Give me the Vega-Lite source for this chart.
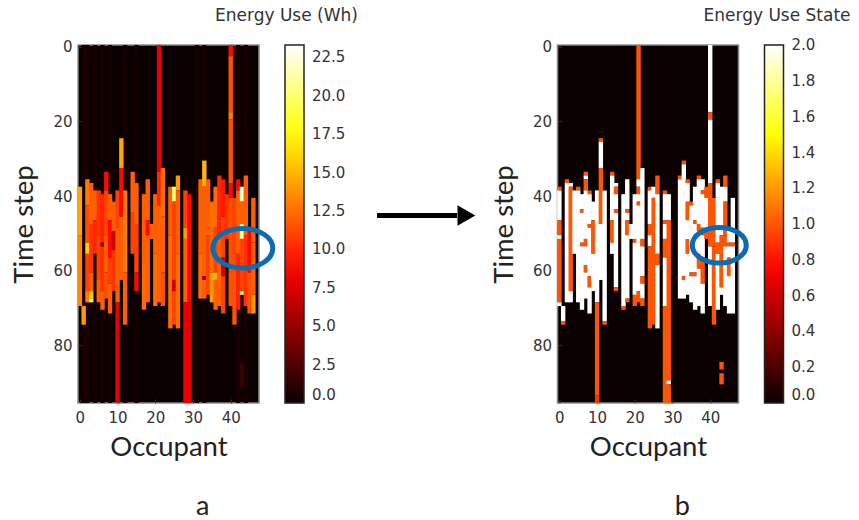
{"$schema":"https://vega.github.io/schema/vega-lite/v6.json","padding":{"left":10,"top":6,"right":5,"bottom":4},"background":"white","bounds":"flush","spacing":298.5,"resolve":{"scale":{"color":"independent"},"legend":{"color":"independent"}},"config":{"view":{"fill":"#0a0000","stroke":"#8a8a8a","strokeWidth":1.5},"axis":{"grid":false,"domain":false,"tickColor":"#333","tickSize":-4,"labelFont":"DejaVu Sans","labelFontSize":15,"labelColor":"#333","titleFont":"Lato","titleFontSize":27.5,"titleFontWeight":"normal","titleColor":"#222"},"legend":{"labelFont":"DejaVu Sans","labelFontSize":15,"labelColor":"#333"}},
"datasets":{"energy":[
{"o":2,"s":-0.5,"e":95.5,"v":0.5},{"o":4,"s":-0.5,"e":95.5,"v":0.4},{"o":6,"s":-0.5,"e":95.5,"v":0.3},{"o":8,"s":-0.5,"e":95.5,"v":0.35},{"o":12,"s":-0.5,"e":95.5,"v":0.3},{"o":15,"s":-0.5,"e":95.5,"v":0.3},{"o":31,"s":-0.5,"e":95.5,"v":0.4},{"o":33,"s":-0.5,"e":95.5,"v":0.3},{"o":1,"s":-0.5,"e":95.5,"v":0.5},{"o":42,"s":-0.5,"e":95.5,"v":0.45},{"o":44,"s":-0.5,"e":95.5,"v":0.45},{"o":43,"s":84.5,"e":91.5,"v":1.5},
{"o":0,"s":37.5,"e":50.5,"v":14.5},{"o":0,"s":50.5,"e":69.5,"v":13.5},
{"o":1,"s":69.5,"e":74.5,"v":14},
{"o":2,"s":35.5,"e":42.5,"v":13},{"o":2,"s":42.5,"e":52.5,"v":11.5},{"o":2,"s":52.5,"e":55.5,"v":16},{"o":2,"s":55.5,"e":65.5,"v":11},{"o":2,"s":65.5,"e":68.5,"v":13},
{"o":3,"s":36.5,"e":47.5,"v":12},{"o":3,"s":47.5,"e":60.5,"v":10.5},{"o":3,"s":60.5,"e":65.5,"v":12},{"o":3,"s":65.5,"e":67.5,"v":16},{"o":3,"s":67.5,"e":68.5,"v":20},
{"o":4,"s":38.5,"e":46.5,"v":12},{"o":4,"s":46.5,"e":55.5,"v":10},
{"o":5,"s":38.5,"e":50.5,"v":10.5},{"o":5,"s":50.5,"e":62.5,"v":11},{"o":5,"s":62.5,"e":68.5,"v":12},
{"o":6,"s":39.5,"e":52.5,"v":10},{"o":6,"s":52.5,"e":53.5,"v":4},{"o":6,"s":53.5,"e":65.5,"v":10.5},{"o":6,"s":65.5,"e":70.5,"v":12},
{"o":7,"s":33.5,"e":38.5,"v":9},{"o":7,"s":38.5,"e":50.5,"v":11},{"o":7,"s":50.5,"e":60.5,"v":12},{"o":7,"s":60.5,"e":67.5,"v":11.5},
{"o":8,"s":39.5,"e":46.5,"v":12},{"o":8,"s":46.5,"e":56.5,"v":9},{"o":8,"s":56.5,"e":63.5,"v":11},{"o":8,"s":63.5,"e":71.5,"v":12},
{"o":9,"s":41.5,"e":49.5,"v":12},{"o":9,"s":49.5,"e":54.5,"v":7},{"o":9,"s":54.5,"e":65.5,"v":10.5},
{"o":10,"s":38.5,"e":48.5,"v":11},{"o":10,"s":48.5,"e":68.5,"v":12},{"o":10,"s":68.5,"e":95.5,"v":8},
{"o":11,"s":24.5,"e":32.5,"v":14.5},{"o":11,"s":32.5,"e":45.5,"v":9},{"o":11,"s":45.5,"e":62.5,"v":12},
{"o":12,"s":38.5,"e":60.5,"v":13},{"o":12,"s":60.5,"e":74.5,"v":12},
{"o":14,"s":33.5,"e":44.5,"v":12},{"o":14,"s":44.5,"e":55.5,"v":11},
{"o":15,"s":36.5,"e":47.5,"v":12},{"o":15,"s":47.5,"e":60.5,"v":11},{"o":15,"s":60.5,"e":65.5,"v":9},
{"o":17,"s":39.5,"e":58.5,"v":12},{"o":17,"s":58.5,"e":70.5,"v":12.5},
{"o":18,"s":35.5,"e":46.5,"v":12},{"o":18,"s":46.5,"e":50.5,"v":9},{"o":18,"s":50.5,"e":68.5,"v":12},
{"o":19,"s":47.5,"e":51.5,"v":12},
{"o":20,"s":39.5,"e":55.5,"v":12},{"o":20,"s":55.5,"e":69.5,"v":12.5},
{"o":21,"s":-0.5,"e":33.5,"v":8},{"o":21,"s":33.5,"e":42.5,"v":10},{"o":21,"s":42.5,"e":68.5,"v":12},
{"o":22,"s":32.5,"e":45.5,"v":12.5},{"o":22,"s":45.5,"e":60.5,"v":12},{"o":22,"s":60.5,"e":69.5,"v":11.5},
{"o":24,"s":37.5,"e":50.5,"v":12},{"o":24,"s":50.5,"e":75.5,"v":12.5},
{"o":25,"s":37.5,"e":41.5,"v":20},{"o":25,"s":41.5,"e":62.5,"v":11},{"o":25,"s":62.5,"e":65.5,"v":7},{"o":25,"s":65.5,"e":74.5,"v":11},
{"o":26,"s":34.5,"e":38.5,"v":14},{"o":26,"s":38.5,"e":55.5,"v":12},{"o":26,"s":55.5,"e":75.5,"v":12.5},
{"o":28,"s":38.5,"e":48.5,"v":11},{"o":28,"s":48.5,"e":51.5,"v":14},{"o":28,"s":51.5,"e":68.5,"v":12},{"o":28,"s":68.5,"e":95.5,"v":8},
{"o":29,"s":39.5,"e":68.5,"v":9},{"o":29,"s":68.5,"e":95.5,"v":8},
{"o":32,"s":35.5,"e":55.5,"v":12},{"o":32,"s":55.5,"e":67.5,"v":12.5},
{"o":33,"s":30.5,"e":37.5,"v":15},{"o":33,"s":37.5,"e":61.5,"v":12},{"o":33,"s":61.5,"e":62.5,"v":5},{"o":33,"s":62.5,"e":67.5,"v":12},
{"o":34,"s":35.5,"e":50.5,"v":12},{"o":34,"s":50.5,"e":66.5,"v":11},
{"o":35,"s":41.5,"e":60.5,"v":12.5},{"o":35,"s":60.5,"e":68.5,"v":14},
{"o":36,"s":37.5,"e":48.5,"v":12.5},{"o":36,"s":48.5,"e":60.5,"v":11},{"o":36,"s":60.5,"e":62.5,"v":15},{"o":36,"s":62.5,"e":70.5,"v":12},
{"o":37,"s":34.5,"e":50.5,"v":10},{"o":37,"s":50.5,"e":69.5,"v":12},
{"o":38,"s":35.5,"e":45.5,"v":9.5},{"o":38,"s":45.5,"e":56.5,"v":11},{"o":38,"s":56.5,"e":61.5,"v":7},{"o":38,"s":61.5,"e":71.5,"v":11},
{"o":39,"s":39.5,"e":51.5,"v":10.5},
{"o":40,"s":-0.5,"e":2.5,"v":9},{"o":40,"s":2.5,"e":17.5,"v":11.5},{"o":40,"s":17.5,"e":19.5,"v":13},{"o":40,"s":19.5,"e":36.5,"v":11.5},{"o":40,"s":36.5,"e":40.5,"v":9},{"o":40,"s":40.5,"e":69.5,"v":11.5},
{"o":41,"s":40.5,"e":55.5,"v":11},{"o":41,"s":55.5,"e":74.5,"v":11.5},
{"o":42,"s":35.5,"e":38.5,"v":9},{"o":42,"s":38.5,"e":55.5,"v":12},{"o":42,"s":55.5,"e":70.5,"v":10},
{"o":43,"s":37.5,"e":41.5,"v":22},{"o":43,"s":41.5,"e":47.5,"v":12},{"o":43,"s":47.5,"e":51.5,"v":21},{"o":43,"s":51.5,"e":65.5,"v":11},{"o":43,"s":65.5,"e":66.5,"v":20},
{"o":44,"s":34.5,"e":50.5,"v":12},{"o":44,"s":50.5,"e":69.5,"v":10.5},
{"o":45,"s":48.5,"e":60.5,"v":9},{"o":45,"s":60.5,"e":71.5,"v":11.5},
{"o":46,"s":40.5,"e":52.5,"v":12},{"o":46,"s":52.5,"e":66.5,"v":12},{"o":46,"s":66.5,"e":71.5,"v":14}
],
"state":[
{"o":0,"s":37.5,"e":38.5,"v":1},{"o":0,"s":38.5,"e":46.5,"v":2},{"o":0,"s":46.5,"e":50.5,"v":1},{"o":0,"s":50.5,"e":51.5,"v":2},{"o":0,"s":51.5,"e":68.5,"v":1},{"o":0,"s":68.5,"e":69.5,"v":2},
{"o":1,"s":69.5,"e":73.5,"v":2},{"o":1,"s":73.5,"e":74.5,"v":1},
{"o":2,"s":35.5,"e":36.5,"v":1},{"o":2,"s":36.5,"e":68.5,"v":2},
{"o":3,"s":36.5,"e":37.5,"v":2},{"o":3,"s":37.5,"e":65.5,"v":1},{"o":3,"s":65.5,"e":68.5,"v":2},
{"o":4,"s":38.5,"e":55.5,"v":2},
{"o":5,"s":37.5,"e":38.5,"v":1},{"o":5,"s":38.5,"e":68.5,"v":2},
{"o":6,"s":39.5,"e":43.5,"v":2},{"o":6,"s":43.5,"e":44.5,"v":1},{"o":6,"s":44.5,"e":52.5,"v":2},{"o":6,"s":52.5,"e":53.5,"v":1},{"o":6,"s":53.5,"e":70.5,"v":2},
{"o":7,"s":33.5,"e":34.5,"v":1},{"o":7,"s":34.5,"e":35.5,"v":2},{"o":7,"s":35.5,"e":38.5,"v":1},{"o":7,"s":38.5,"e":51.5,"v":2},{"o":7,"s":51.5,"e":53.5,"v":1},{"o":7,"s":53.5,"e":58.5,"v":2},{"o":7,"s":58.5,"e":60.5,"v":1},{"o":7,"s":60.5,"e":67.5,"v":2},
{"o":8,"s":38.5,"e":39.5,"v":1},{"o":8,"s":39.5,"e":47.5,"v":2},{"o":8,"s":47.5,"e":48.5,"v":1},{"o":8,"s":48.5,"e":61.5,"v":2},{"o":8,"s":61.5,"e":64.5,"v":1},{"o":8,"s":64.5,"e":71.5,"v":2},
{"o":9,"s":41.5,"e":46.5,"v":2},{"o":9,"s":46.5,"e":55.5,"v":1},{"o":9,"s":55.5,"e":65.5,"v":2},
{"o":10,"s":38.5,"e":68.5,"v":2},{"o":10,"s":68.5,"e":93.5,"v":1},{"o":10,"s":93.5,"e":95.5,"v":0.9},
{"o":11,"s":24.5,"e":25.5,"v":1},{"o":11,"s":25.5,"e":32.5,"v":2},{"o":11,"s":32.5,"e":47.5,"v":1},{"o":11,"s":47.5,"e":62.5,"v":2},
{"o":12,"s":38.5,"e":73.5,"v":2},{"o":12,"s":73.5,"e":74.5,"v":1},
{"o":14,"s":33.5,"e":34.5,"v":1},{"o":14,"s":34.5,"e":46.5,"v":2},{"o":14,"s":46.5,"e":52.5,"v":1},{"o":14,"s":52.5,"e":55.5,"v":2},
{"o":15,"s":36.5,"e":37.5,"v":2},{"o":15,"s":37.5,"e":39.5,"v":1},{"o":15,"s":39.5,"e":43.5,"v":2},{"o":15,"s":43.5,"e":44.5,"v":1},{"o":15,"s":44.5,"e":64.5,"v":2},{"o":15,"s":64.5,"e":65.5,"v":1},
{"o":17,"s":39.5,"e":69.5,"v":2},{"o":17,"s":69.5,"e":70.5,"v":1},
{"o":18,"s":35.5,"e":43.5,"v":2},{"o":18,"s":43.5,"e":44.5,"v":1},{"o":18,"s":44.5,"e":46.5,"v":2},{"o":18,"s":46.5,"e":50.5,"v":1},{"o":18,"s":50.5,"e":67.5,"v":2},{"o":18,"s":67.5,"e":68.5,"v":1},
{"o":19,"s":47.5,"e":51.5,"v":2},
{"o":20,"s":39.5,"e":51.5,"v":2},{"o":20,"s":51.5,"e":52.5,"v":1},{"o":20,"s":52.5,"e":66.5,"v":2},{"o":20,"s":66.5,"e":69.5,"v":1},
{"o":21,"s":-0.5,"e":35.5,"v":1},{"o":21,"s":35.5,"e":37.5,"v":2},{"o":21,"s":37.5,"e":39.5,"v":1},{"o":21,"s":39.5,"e":41.5,"v":2},{"o":21,"s":41.5,"e":42.5,"v":1},{"o":21,"s":42.5,"e":65.5,"v":2},{"o":21,"s":65.5,"e":68.5,"v":1},
{"o":22,"s":32.5,"e":51.5,"v":2},{"o":22,"s":51.5,"e":53.5,"v":1},{"o":22,"s":53.5,"e":61.5,"v":2},{"o":22,"s":61.5,"e":63.5,"v":1},{"o":22,"s":63.5,"e":67.5,"v":2},{"o":22,"s":67.5,"e":69.5,"v":1},
{"o":24,"s":37.5,"e":38.5,"v":1},{"o":24,"s":38.5,"e":47.5,"v":2},{"o":24,"s":47.5,"e":50.5,"v":1},{"o":24,"s":50.5,"e":53.5,"v":2},{"o":24,"s":53.5,"e":75.5,"v":1},
{"o":25,"s":37.5,"e":40.5,"v":2},{"o":25,"s":40.5,"e":74.5,"v":1},
{"o":26,"s":34.5,"e":39.5,"v":1},{"o":26,"s":39.5,"e":55.5,"v":2},{"o":26,"s":55.5,"e":58.5,"v":1},{"o":26,"s":58.5,"e":75.5,"v":2},
{"o":28,"s":38.5,"e":39.5,"v":1},{"o":28,"s":39.5,"e":46.5,"v":2},{"o":28,"s":46.5,"e":47.5,"v":1},{"o":28,"s":47.5,"e":51.5,"v":2},{"o":28,"s":51.5,"e":56.5,"v":1},{"o":28,"s":56.5,"e":69.5,"v":2},{"o":28,"s":69.5,"e":95.5,"v":1},
{"o":29,"s":39.5,"e":46.5,"v":2},{"o":29,"s":46.5,"e":89.5,"v":1},{"o":29,"s":89.5,"e":90.5,"v":2},{"o":29,"s":90.5,"e":95.5,"v":1},
{"o":32,"s":34.5,"e":35.5,"v":1},{"o":32,"s":35.5,"e":67.5,"v":2},
{"o":33,"s":30.5,"e":31.5,"v":1},{"o":33,"s":31.5,"e":61.5,"v":2},{"o":33,"s":61.5,"e":62.5,"v":1},{"o":33,"s":62.5,"e":67.5,"v":2},
{"o":34,"s":35.5,"e":36.5,"v":1},{"o":34,"s":36.5,"e":41.5,"v":2},{"o":34,"s":41.5,"e":46.5,"v":1},{"o":34,"s":46.5,"e":51.5,"v":2},{"o":34,"s":51.5,"e":55.5,"v":1},{"o":34,"s":55.5,"e":66.5,"v":2},
{"o":35,"s":41.5,"e":42.5,"v":1},{"o":35,"s":42.5,"e":60.5,"v":2},{"o":35,"s":60.5,"e":61.5,"v":1},{"o":35,"s":61.5,"e":68.5,"v":2},
{"o":36,"s":37.5,"e":46.5,"v":2},{"o":36,"s":46.5,"e":47.5,"v":1},{"o":36,"s":47.5,"e":60.5,"v":2},{"o":36,"s":60.5,"e":61.5,"v":1},{"o":36,"s":61.5,"e":70.5,"v":2},
{"o":37,"s":34.5,"e":35.5,"v":1},{"o":37,"s":35.5,"e":47.5,"v":2},{"o":37,"s":47.5,"e":49.5,"v":1},{"o":37,"s":49.5,"e":55.5,"v":2},{"o":37,"s":55.5,"e":59.5,"v":1},{"o":37,"s":59.5,"e":69.5,"v":2},
{"o":38,"s":35.5,"e":38.5,"v":2},{"o":38,"s":38.5,"e":39.5,"v":1},{"o":38,"s":39.5,"e":48.5,"v":2},{"o":38,"s":48.5,"e":50.5,"v":1},{"o":38,"s":50.5,"e":56.5,"v":2},{"o":38,"s":56.5,"e":63.5,"v":1},{"o":38,"s":63.5,"e":71.5,"v":2},
{"o":39,"s":37.5,"e":40.5,"v":1},{"o":39,"s":40.5,"e":48.5,"v":2},{"o":39,"s":48.5,"e":51.5,"v":1},
{"o":40,"s":-0.5,"e":17.5,"v":2},{"o":40,"s":17.5,"e":19.5,"v":1},{"o":40,"s":19.5,"e":36.5,"v":2},{"o":40,"s":36.5,"e":53.5,"v":1},{"o":40,"s":53.5,"e":69.5,"v":2},
{"o":41,"s":40.5,"e":53.5,"v":1},{"o":41,"s":53.5,"e":69.5,"v":1},{"o":41,"s":69.5,"e":74.5,"v":1},
{"o":42,"s":35.5,"e":36.5,"v":1},{"o":42,"s":36.5,"e":40.5,"v":2},{"o":42,"s":40.5,"e":52.5,"v":2},{"o":42,"s":52.5,"e":55.5,"v":1},{"o":42,"s":55.5,"e":70.5,"v":2},
{"o":43,"s":37.5,"e":47.5,"v":2},{"o":43,"s":47.5,"e":50.5,"v":2},{"o":43,"s":50.5,"e":64.5,"v":1},{"o":43,"s":64.5,"e":66.5,"v":2},{"o":43,"s":84.5,"e":86.5,"v":1},{"o":43,"s":87.5,"e":90.5,"v":1},
{"o":44,"s":34.5,"e":37.5,"v":1},{"o":44,"s":37.5,"e":41.5,"v":2},{"o":44,"s":41.5,"e":47.5,"v":1},{"o":44,"s":47.5,"e":50.5,"v":1},{"o":44,"s":50.5,"e":53.5,"v":1},{"o":44,"s":53.5,"e":69.5,"v":2},
{"o":45,"s":48.5,"e":52.5,"v":2},{"o":45,"s":52.5,"e":53.5,"v":1},{"o":45,"s":53.5,"e":56.5,"v":2},{"o":45,"s":56.5,"e":61.5,"v":1},{"o":45,"s":61.5,"e":71.5,"v":2},
{"o":46,"s":40.5,"e":52.5,"v":2},{"o":46,"s":52.5,"e":53.5,"v":1},{"o":46,"s":53.5,"e":71.5,"v":2}
]},
"hconcat":[
{"width":181,"height":358,"title":{"text":"Energy Use (Wh)","anchor":"start","frame":"group","dx":137,"offset":15,"font":"DejaVu Sans","fontSize":17,"fontWeight":"normal","color":"#333"},
"layer":[
{"data":{"name":"energy"},"mark":{"type":"rect","width":4.4},"encoding":{
"x":{"field":"o","type":"quantitative","scale":{"domain":[-0.5,47.5],"nice":false,"zero":false},"axis":{"title":"Occupant","values":[0,10,20,30,40],"format":"d","titlePadding":8,"labelPadding":11}},
"y":{"field":"s","type":"quantitative","scale":{"domain":[95.5,-0.5],"nice":false,"zero":false},"axis":{"title":"Time step","values":[0,20,40,60,80],"format":"d","titlePadding":14,"labelPadding":10}},
"y2":{"field":"e"},
"color":{"field":"v","type":"quantitative","scale":{"domain":[0,8.74,17.5,23.3,23.31],"range":["#0b0000","#ff0000","#ffff00","#ffffff","#ffffff"],"interpolate":"rgb"},"legend":{"orient":"none","legendX":207,"legendY":0,"title":null,"direction":"vertical","gradientLength":358,"gradientThickness":19,"gradientStrokeColor":"#222","gradientStrokeWidth":1.5,"labelOffset":8,"values":[0,2.5,5,7.5,10,12.5,15,17.5,20,22.5],"format":".1f"}}}},
{"data":{"values":[{"px":43.2,"py":54}]},"mark":{"type":"point","shape":"M-1,0A1,0.66 0 1 0 1,0A1,0.66 0 1 0 -1,0Z","size":3600,"filled":false,"stroke":"#0b6cb5","strokeWidth":5,"opacity":1},"encoding":{"x":{"field":"px","type":"quantitative"},"y":{"field":"py","type":"quantitative"}}},
{"data":{"values":[{"px":78.8,"px2":100,"py":45.2}]},"mark":{"type":"rule","stroke":"black","strokeWidth":5,"clip":false},"encoding":{"x":{"field":"px","type":"quantitative"},"x2":{"field":"px2"},"y":{"field":"py","type":"quantitative"}}},
{"data":{"values":[{"px":102.5,"py":45.2}]},"mark":{"type":"point","shape":"triangle-right","size":420,"filled":true,"fill":"black","opacity":1},"encoding":{"x":{"field":"px","type":"quantitative"},"y":{"field":"py","type":"quantitative"}}},
{"data":{"values":[{"px":32.6,"py":123.5,"t":"a"}]},"mark":{"type":"text","font":"Lato","fontSize":27,"color":"#222"},"encoding":{"x":{"field":"px","type":"quantitative"},"y":{"field":"py","type":"quantitative"},"text":{"field":"t"}}}
]},
{"width":181,"height":358,"title":{"text":"Energy Use State","anchor":"start","frame":"group","dx":146,"offset":15,"font":"DejaVu Sans","fontSize":17,"fontWeight":"normal","color":"#333"},
"layer":[
{"data":{"name":"state"},"mark":{"type":"rect","width":4.4},"encoding":{
"x":{"field":"o","type":"quantitative","scale":{"domain":[-0.5,47.5],"nice":false,"zero":false},"axis":{"title":"Occupant","values":[0,10,20,30,40],"format":"d","titlePadding":8,"labelPadding":11}},
"y":{"field":"s","type":"quantitative","scale":{"domain":[95.5,-0.5],"nice":false,"zero":false},"axis":{"title":"Time step","values":[0,20,40,60,80],"format":"d","titlePadding":14,"labelPadding":10}},
"y2":{"field":"e"},
"color":{"field":"v","type":"quantitative","scale":{"domain":[0,0.75,1.5,2,2.001],"range":["#0b0000","#ff0000","#ffff00","#ffffff","#ffffff"],"interpolate":"rgb"},"legend":{"orient":"none","legendX":207,"legendY":0,"title":null,"direction":"vertical","gradientLength":358,"gradientThickness":19,"gradientStrokeColor":"#222","gradientStrokeWidth":1.5,"labelOffset":8,"values":[0,0.2,0.4,0.6,0.8,1,1.2,1.4,1.6,1.8,2],"format":".1f"}}}},
{"data":{"values":[{"px":42.4,"py":53.2}]},"mark":{"type":"point","shape":"M-1,0A1,0.66 0 1 0 1,0A1,0.66 0 1 0 -1,0Z","size":2916,"filled":false,"stroke":"#0b6cb5","strokeWidth":5,"opacity":1},"encoding":{"x":{"field":"px","type":"quantitative"},"y":{"field":"py","type":"quantitative"}}},
{"data":{"values":[{"px":32.6,"py":123.5,"t":"b"}]},"mark":{"type":"text","font":"Lato","fontSize":27,"color":"#222"},"encoding":{"x":{"field":"px","type":"quantitative"},"y":{"field":"py","type":"quantitative"},"text":{"field":"t"}}}
]}
]}
